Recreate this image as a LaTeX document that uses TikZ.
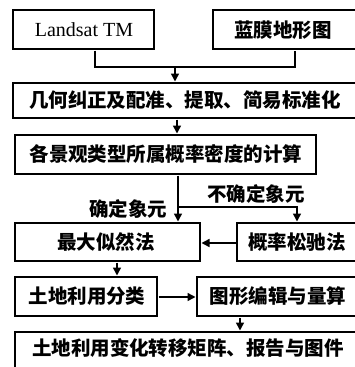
\documentclass[tikz,border=0pt]{standalone}
\usepackage{fontspec}
\setmainfont{Liberation Serif}
\newfontfamily\cjk{Noto Sans CJK SC}
\usetikzlibrary{arrows.meta}
\tikzset{
  boxstyle/.style={draw=black, line width=2.6pt, fill=white},
  txt/.style={inner sep=0pt, font=\cjk\bfseries\fontsize{19.5}{20}\selectfont},
  lat/.style={inner sep=0pt, font=\fontsize{20}{21}\selectfont},
  conn/.style={line width=1.5pt},
  arr/.style={conn, -{Triangle[length=8pt,width=8pt]}},
}
\begin{document}
\begin{tikzpicture}[x=1pt,y=-1pt]
\useasboundingbox (0,0) rectangle (355,367);
\clip (0,0) rectangle (355,367);
% boxes
\draw[boxstyle] (13,10) rectangle (154,49);
\draw[boxstyle] (213,10) rectangle (370,49);
\draw[boxstyle] (13,83) rectangle (370,118);
\draw[boxstyle] (15,135) rectangle (316,174);
\draw[boxstyle] (15,223) rectangle (200,261);
\draw[boxstyle] (237,223) rectangle (370,261);
\draw[boxstyle] (15,277) rectangle (157,316);
\draw[boxstyle] (197,277) rectangle (370,316);
\draw[boxstyle] (15,332) rectangle (370,380);
% anchor coordinates
\coordinate (b1s) at (95,50.5);
\coordinate (b2s) at (295,50.5);
\coordinate (j1) at (95,67);
\coordinate (j2) at (295,67);
\coordinate (m1) at (175,67);
\coordinate (b3n) at (175,81.5);
\coordinate (b3s) at (177,119.5);
\coordinate (b4n) at (177,133.5);
\coordinate (b4s) at (178,175.5);
\coordinate (br) at (178,207);
\coordinate (brr) at (297,207);
\coordinate (b5n) at (178,221.5);
\coordinate (b6n) at (297,221.5);
\coordinate (b6w) at (235.5,243);
\coordinate (b5e) at (201.5,243);
\coordinate (b5s) at (117,262.5);
\coordinate (b7n) at (117,275.5);
\coordinate (b7e) at (158.5,297);
\coordinate (b8w) at (195.5,297);
\coordinate (b8s) at (240,317.5);
\coordinate (b9n) at (240,330.5);
% texts
\node[lat] (t1) at (84,30) {Landsat TM};
\node[txt] (t2) at (283,30) {蓝膜地形图};
\node[txt] (t3) at (185,100.5) {几何纠正及配准、提取、简易标准化};
\node[txt] (t4) at (166,154.5) {各景观类型所属概率密度的计算};
\node[txt] (t5) at (106,242) {最大似然法};
\node[txt] (t6) at (297,242) {概率松驰法};
\node[txt] (t7) at (87,296.5) {土地利用分类};
\node[txt] (t8) at (278,296.5) {图形编辑与量算};
\node[txt] (t9) at (188,348) {土地利用变化转移矩阵、报告与图件};
\node[txt] (l1) at (128,209) {确定象元};
\node[txt] (l2) at (256,194) {不确定象元};
% connectors
\draw[conn] (b1s) -- (j1) -- (j2) -- (b2s);
\draw[arr] (m1) -- (b3n);
\draw[arr] (b3s) -- (b4n);
\draw[arr] (b4s) -- (b5n);
\draw[arr] (br) -- (brr) -- (b6n);
\draw[arr] (b6w) -- (b5e);
\draw[arr] (b5s) -- (b7n);
\draw[arr] (b7e) -- (b8w);
\draw[arr] (b8s) -- (b9n);
\end{tikzpicture}
\end{document}
